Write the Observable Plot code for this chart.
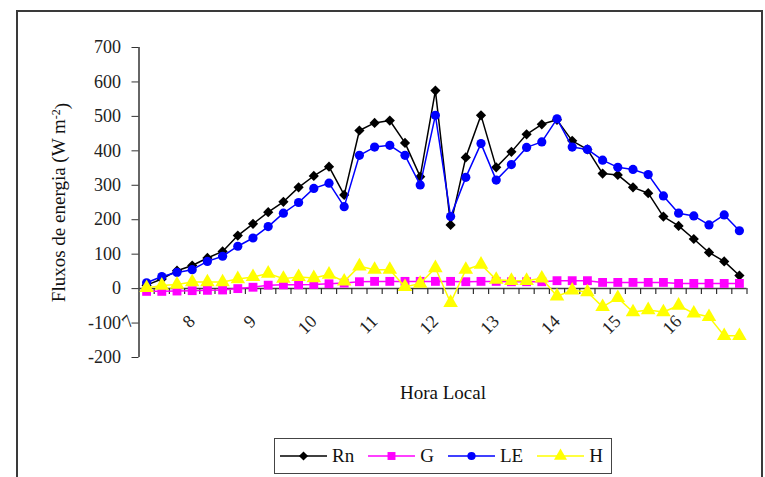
<!DOCTYPE html>
<html><head><meta charset="utf-8">
<script src="https://cdn.jsdelivr.net/npm/d3@7"></script>
<script src="https://cdn.jsdelivr.net/npm/@observablehq/plot@0.6"></script>
<style>
html,body{margin:0;padding:0;background:#fff;}
#wrap{position:relative;width:765px;height:477px;overflow:hidden;font-family:"Liberation Serif","Times New Roman",serif;}
#border{position:absolute;left:16px;top:10px;width:747px;height:520px;border:2px solid #3a3a3a;box-sizing:border-box;}
#chart{position:absolute;left:0;top:0;}
#legend{position:absolute;left:274px;top:438px;width:338px;height:36px;box-sizing:border-box;border:1.5px solid #444;background:#fff;display:flex;align-items:center;padding-left:5px;font-size:19px;color:#111;}
#legend .item{display:flex;align-items:center;margin-right:14px;}
#legend .item span{margin-left:5px;}
</style></head><body>
<div id="wrap"><div id="border"></div><div id="chart"></div><div id="legend"></div></div>
<script>
// categories (local time, 15-min steps)
const times = ["7:15","7:30","7:45","8:00","8:15","8:30","8:45","9:00","9:15","9:30","9:45","10:00",
  "10:15","10:30","10:45","11:00","11:15","11:30","11:45","12:00","12:15","12:30","12:45","13:00",
  "13:15","13:30","13:45","14:00","14:15","14:30","14:45","15:00","15:15","15:30","15:45","16:00",
  "16:15","16:30","16:45","17:00"];
// series values (W m-2)
const rn = [10, 28, 52, 67, 89, 108, 154, 188, 222, 252, 294, 327, 354, 272, 459, 481, 488, 423, 325, 575,
  185, 381, 503, 352, 397, 448, 477, 490, 429, 404, 334, 330, 294, 277, 209, 182, 144, 105, 79, 38];
const g = [-8, -8, -7, -6, -5, -4, 0, 4, 10, 11, 11, 12, 14, 16, 20, 21, 21, 21, 21, 21,
  21, 20, 21, 21, 20, 20, 20, 23, 23, 23, 18, 18, 18, 18, 18, 15, 15, 15, 15, 15];
const le = [17, 35, 47, 55, 79, 94, 123, 147, 180, 219, 250, 291, 306, 238, 387, 411, 416, 387, 301, 503,
  209, 323, 421, 315, 360, 410, 426, 493, 411, 404, 373, 352, 346, 331, 269, 219, 211, 185, 214, 168];
const h = [2, 9, 12, 19, 19, 19, 28, 34, 44, 29, 34, 31, 41, 21, 65, 55, 55, 5, 15, 60,
  -41, 55, 70, 26, 23, 23, 30, -22, -5, -10, -53, -27, -68, -62, -68, -49, -72, -82, -137, -137];
// tick labels
const hourLabels = ["7","8","9","10","11","12","13","14","15","16"];
const yTicks = [-200,-100,0,100,200,300,400,500,600,700];
const seriesNames = ["Rn","G","LE","H"];
const yTitle = "Fluxos de energia (W m";
const yTitleSup = "-2";

const toHour = s => { const [hh, mm] = s.split(":").map(Number); return hh + mm / 60; };
const tx = times.map(toHour);
const step = tx[1] - tx[0];
const xDomain = [tx[0] - step / 2, tx[tx.length - 1] + step / 2];
const boundaries = tx.map(t => t + step / 2);

const styles = {
  Rn: {color: "#000000", symbol: "diamond2", r: 4.6},
  G:  {color: "#FF00FF", symbol: "square", r: 5},
  LE: {color: "#0000FF", symbol: "circle", r: 4.6},
  H:  {color: "#FFFF00", symbol: "triangle", r: 5.4}
};
const valuesBy = {Rn: rn, G: g, LE: le, H: h};
const rows = seriesNames.flatMap(name => valuesBy[name].map((v, i) => ({name, t: tx[i], v})));

const seriesMarks = seriesNames.flatMap(name => {
  const s = styles[name];
  const data = rows.filter(d => d.name === name);
  return [
    Plot.line(data, {x: "t", y: "v", stroke: s.color, strokeWidth: 1.5}),
    Plot.dot(data, {x: "t", y: "v", symbol: s.symbol, fill: s.color, stroke: "none", r: s.r})
  ];
});

const chart = Plot.plot({
  width: 765, height: 477,
  marginTop: 47, marginBottom: 120, marginLeft: 138.5, marginRight: 18.5,
  style: {fontFamily: "'Liberation Serif', 'Times New Roman', serif", fontSize: "18px", color: "#222", background: "transparent"},
  x: {type: "linear", domain: xDomain, axis: null},
  y: {domain: [-200, 700], axis: null},
  marks: [
    Plot.ruleX([xDomain[0]], {stroke: "#333", strokeWidth: 1.5}),
    Plot.axisY({ticks: yTicks, tickFormat: d => String(d), tickSize: 7, tickPadding: 11, stroke: "#333", fill: "#222", fontSize: 18, label: null}),
    Plot.ruleY([0], {stroke: "#444", strokeWidth: 1.5}),
    Plot.ruleX(boundaries, {x: d => d, y1: () => 0, y2: () => 0, insetBottom: -6, stroke: "#333", strokeWidth: 1.2}),
    ...seriesMarks,
    Plot.text(hourLabels, {x: d => +d, frameAnchor: "bottom", text: d => d, rotate: -45, textAnchor: "end", dx: 4, dy: -35, fill: "#222", fontSize: 18}),
    Plot.text([yTitle], {frameAnchor: "left", textAnchor: "middle", rotate: -90, dx: -80, fontSize: 19, fill: "#111"}),
    Plot.text(["Hora Local"], {frameAnchor: "bottom", textAnchor: "middle", dy: 41, fontSize: 19, fill: "#111"})
  ]
});
document.getElementById("chart").append(chart);

// superscript + closing parenthesis for the y title
d3.select(chart).selectAll("text").filter(function() { return this.textContent === yTitle; })
  .each(function() {
    const t = d3.select(this);
    t.append("tspan").attr("dy", "-0.45em").attr("font-size", "12px").text(yTitleSup);
    t.append("tspan").attr("dy", "0.45em").text(")");
  });

// legend
const legend = d3.select("#legend");
for (const name of seriesNames) {
  const s = styles[name];
  const item = legend.append("div").attr("class", "item");
  const svg = item.append("svg").attr("width", 47).attr("height", 16);
  svg.append("line").attr("x1", 0).attr("x2", 47).attr("y1", 8).attr("y2", 8).attr("stroke", s.color).attr("stroke-width", 1.5);
  const sym = {diamond2: d3.symbolDiamond2, square: d3.symbolSquare, circle: d3.symbolCircle, triangle: d3.symbolTriangle}[s.symbol];
  svg.append("path").attr("transform", "translate(23.5,8)").attr("d", d3.symbol(sym, Math.PI * s.r * s.r * 0.8)()).attr("fill", s.color);
  item.append("span").text(name);
}
</script>
</body></html>
